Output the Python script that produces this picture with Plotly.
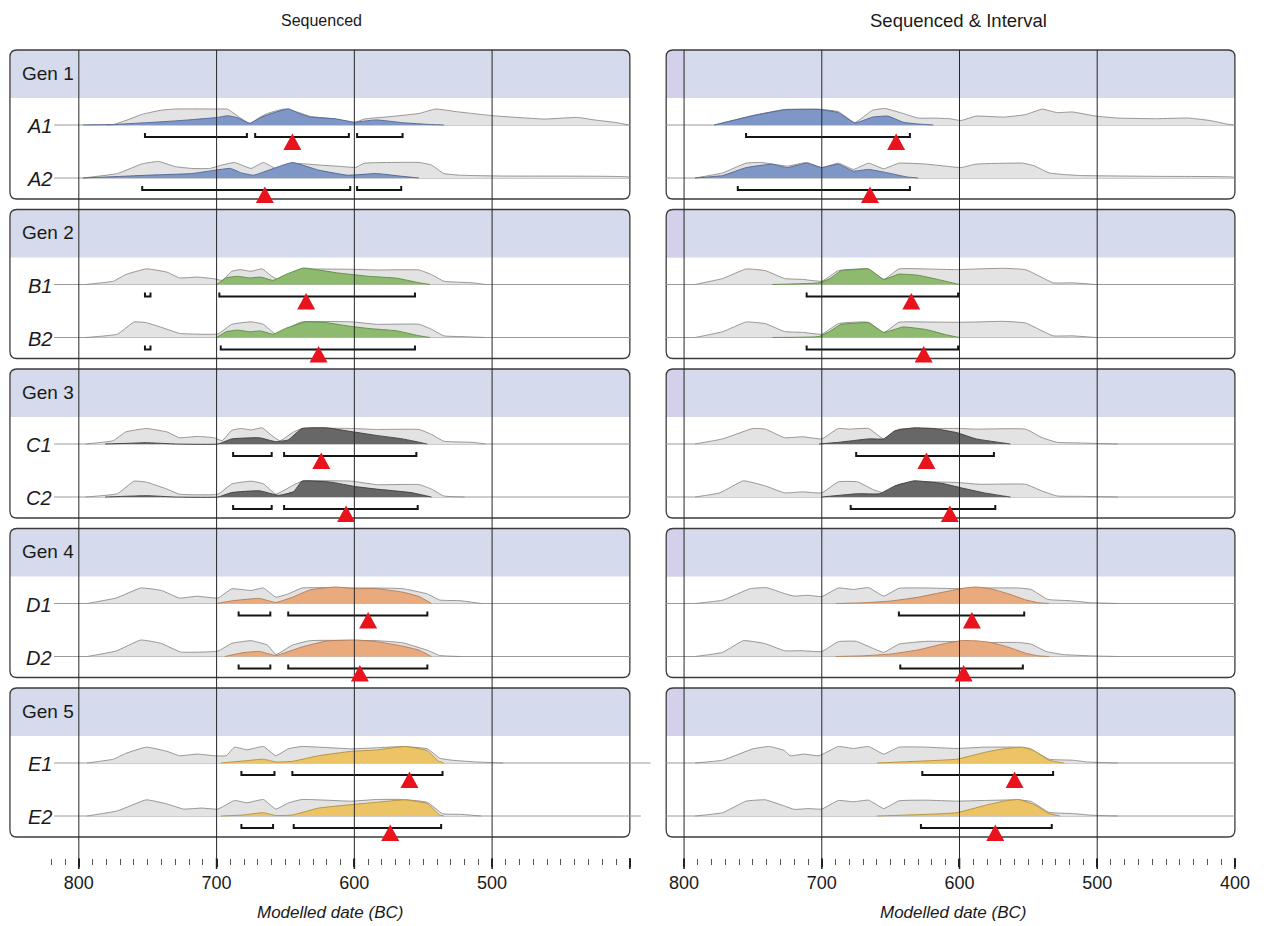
import plotly.graph_objects as go

FIG_W, FIG_H = 1266, 926
SX = 1.005  # horizontal layout stretch
FONT = "Liberation Sans, Arial, Helvetica, sans-serif"

ROWS = ["A1", "A2", "B1", "B2", "C1", "C2", "D1", "D2", "E1", "E2"]
GENERATIONS = ["Gen 1", "Gen 2", "Gen 3", "Gen 4", "Gen 5"]
PANEL_TITLES = ["Sequenced", "Sequenced & Interval"]
AXIS_TITLE = "Modelled date (BC)"
MAJOR_TICKS = [800, 700, 600, 500, 400]
LEFT_TICK_TEXT = ["800", "700", "600", "500", ""]
RIGHT_TICK_TEXT = ["800", "700", "600", "500", "400"]
GRID_YEARS = [800, 700, 600, 500]

POST_FILL = ["#7f97c6", "#8dba6f", "#676767", "#e9aa7e", "#ecc465"]
POST_LINE = ["#4f6390", "#5b8a40", "#3c3c3c", "#b37a52", "#b38e38"]
PRIOR_FILL = "#e3e3e3"
PRIOR_LINE = "#8c8c8c"

# ---- Sequenced model: (year BC, relative probability) ----
SEQ_A1_PRIOR = [(780, 0), (775, 0.02), (765, 0.3), (754, 0.65), (740, 0.9), (730, 0.97), (700, 0.97), (692, 0.96),
                (684, 0.5), (676, 0.1), (668, 0.5), (663, 0.7), (651, 0.97), (640, 0.75), (632, 0.52), (614, 0.36),
                (600, 0.14), (593, 0.36), (575, 0.5), (553, 0.7), (541, 0.97), (526, 0.81), (499, 0.56), (462, 0.36),
                (438, 0.46), (426, 0.31), (410, 0.15), (401, 0)]
SEQ_A1_POST = [(797, 0), (775, 0.03), (751, 0.14), (735, 0.22), (720, 0.31), (700, 0.45), (692, 0.56), (685, 0.45),
               (676, 0.1), (668, 0.45), (663, 0.62), (648, 0.98), (640, 0.7), (632, 0.48), (614, 0.38), (600, 0.17),
               (592, 0.25), (584, 0.31), (565, 0.14), (545, 0.03), (535, 0)]
SEQ_A2_PRIOR = [(797, 0), (772, 0.27), (754, 0.86), (742, 1.0), (730, 0.69), (718, 0.58), (705, 0.58), (696, 0.79),
                (687, 0.94), (675, 0.58), (666, 0.94), (657, 0.58), (645, 0.89), (626, 0.79), (608, 0.69), (599, 0.64),
                (593, 0.89), (553, 0.94), (544, 0.79), (535, 0.27), (523, 0.17), (493, 0.12), (401, 0.06)]
SEQ_A2_POST = [(797, 0), (750, 0.17), (718, 0.27), (690, 0.58), (682, 0.31), (673, 0.17), (662, 0.48), (645, 0.94),
               (626, 0.48), (605, 0.17), (584, 0.27), (565, 0.1), (553, 0)]
SEQ_B1_PRIOR = [(795, 0), (775, 0.2), (766, 0.6), (751, 0.95), (736, 0.75), (727, 0.4), (714, 0.45), (702, 0.35),
                (696, 0.25), (689, 0.8), (683, 0.9), (675, 0.8), (667, 0.95), (660, 0.5), (654, 0.25), (645, 0.7),
                (638, 0.92), (602, 0.92), (584, 0.88), (553, 0.88), (544, 0.6), (535, 0.2), (514, 0.1), (505, 0)]
SEQ_B1_POST = [(700, 0), (693, 0.4), (685, 0.5), (676, 0.4), (668, 0.45), (659, 0.25), (650, 0.6), (637, 1.0),
               (626, 0.88), (612, 0.7), (590, 0.5), (569, 0.38), (554, 0.12), (545, 0)]
SEQ_B2_PRIOR = [(795, 0), (772, 0.2), (760, 0.94), (751, 0.9), (736, 0.5), (727, 0.25), (699, 0.22), (689, 0.8),
                (675, 0.95), (666, 0.8), (657, 0.2), (645, 0.7), (638, 0.95), (602, 0.95), (584, 0.8), (553, 0.8),
                (544, 0.5), (535, 0.1), (520, 0.05), (505, 0)]
SEQ_B2_POST = [(700, 0), (693, 0.35), (685, 0.45), (676, 0.35), (668, 0.4), (659, 0.2), (650, 0.55), (635, 0.95),
               (620, 0.9), (605, 0.7), (590, 0.55), (569, 0.4), (554, 0.12), (545, 0)]
SEQ_C1_PRIOR = [(795, 0), (775, 0.2), (766, 0.73), (751, 0.94), (736, 0.73), (727, 0.38), (714, 0.46), (702, 0.38),
                (696, 0.2), (689, 0.83), (682, 0.94), (675, 0.85), (667, 0.98), (660, 0.52), (654, 0.2), (644, 0.73),
                (638, 0.94), (602, 0.94), (584, 0.88), (553, 0.88), (544, 0.58), (535, 0.17), (514, 0.1), (505, 0)]
SEQ_C1_POST = [(781, 0), (765, 0.04), (751, 0.08), (740, 0.04), (730, 0), (699, 0), (689, 0.31), (669, 0.38),
               (657, 0.14), (648, 0.25), (638, 0.94), (620, 0.98), (605, 0.79), (584, 0.52), (565, 0.31), (547, 0)]
SEQ_C2_PRIOR = [(795, 0), (772, 0.2), (760, 0.96), (751, 0.9), (736, 0.48), (727, 0.17), (699, 0.17), (689, 0.79),
                (675, 0.96), (666, 0.8), (657, 0.17), (645, 0.69), (638, 0.96), (602, 0.96), (584, 0.75), (553, 0.75),
                (544, 0.48), (535, 0.06), (520, 0)]
SEQ_C2_POST = [(781, 0), (751, 0.08), (730, 0), (699, 0), (689, 0.27), (669, 0.38), (655, 0.1), (644, 0.33),
               (638, 0.96), (617, 0.9), (599, 0.63), (584, 0.48), (559, 0.27), (544, 0)]
SEQ_D1_PRIOR = [(794, 0), (773, 0.33), (755, 0.94), (740, 0.79), (727, 0.33), (714, 0.44), (699, 0.33), (689, 0.89),
                (675, 0.79), (666, 0.94), (657, 0.38), (648, 0.58), (638, 0.94), (602, 0.94), (584, 0.94), (565, 0.9),
                (547, 0.58), (538, 0.21), (523, 0.17), (508, 0)]
SEQ_D1_POST = [(700, 0), (688, 0.17), (669, 0.31), (657, 0.06), (645, 0.38), (632, 0.83), (614, 1.0), (599, 0.9),
               (584, 0.9), (565, 0.69), (553, 0.42), (544, 0)]
SEQ_D2_PRIOR = [(794, 0), (773, 0.33), (755, 1.0), (740, 0.79), (726, 0.27), (699, 0.33), (689, 0.8), (675, 0.96),
                (663, 0.69), (657, 0.12), (645, 0.69), (632, 0.96), (584, 0.96), (565, 0.83), (547, 0.38), (538, 0.06),
                (523, 0)]
SEQ_D2_POST = [(694, 0), (681, 0.23), (669, 0.31), (657, 0.06), (638, 0.58), (620, 0.94), (599, 1.0), (584, 0.9),
               (565, 0.63), (553, 0.38), (544, 0)]
SEQ_E1_PRIOR = [(794, 0), (775, 0.23), (766, 0.58), (751, 0.96), (736, 0.71), (727, 0.44), (714, 0.54), (702, 0.44),
                (693, 0.44), (687, 0.96), (678, 0.8), (666, 1.0), (657, 0.44), (648, 0.86), (638, 1.0), (602, 0.86),
                (584, 0.92), (565, 1.0), (547, 0.86), (538, 0.29), (529, 0.17), (511, 0.06), (492, 0)]
SEQ_E1_POST = [(697, 0), (681, 0.12), (666, 0.23), (657, 0.06), (645, 0.1), (626, 0.44), (602, 0.71), (584, 0.79),
               (563, 1.0), (547, 0.75), (539, 0.12), (535, 0)]
SEQ_E2_PRIOR = [(794, 0), (772, 0.31), (751, 0.98), (736, 0.73), (724, 0.42), (711, 0.48), (699, 0.42), (687, 0.94),
                (678, 0.8), (666, 1.0), (657, 0.42), (648, 0.79), (638, 1.0), (602, 0.9), (584, 1.0), (565, 1.0),
                (547, 0.83), (536, 0.14), (523, 0.1), (508, 0)]
SEQ_E2_POST = [(697, 0), (681, 0.06), (666, 0.2), (657, 0.03), (645, 0.06), (626, 0.48), (602, 0.69), (584, 0.83),
               (563, 0.98), (547, 0.75), (538, 0.06), (535, 0)]

SEQ_RANGES = [
    [(752, 678), (672, 604), (598, 565)],
    [(754, 603), (598, 566)],
    [(752, 748), (698, 556)],
    [(752, 748), (697, 556)],
    [(688, 660), (651, 555)],
    [(688, 660), (651, 554)],
    [(684, 661), (648, 547)],
    [(684, 661), (648, 547)],
    [(682, 658), (645, 536)],
    [(682, 659), (644, 537)],
]
SEQ_MEDIAN = [645, 665, 635, 626, 624, 606, 590, 596, 560, 574]
# where each row's baseline rule stops (years BC)
SEQ_LINE_END = [400, 400, 400, 400, 400, 400, 400, 400, 385, 392]

# ---- Sequenced & Interval model ----
INT_A1_PRIOR = [(778, 0), (750, 0.58), (727, 0.94), (702, 0.96), (688, 0.81), (676, 0.15), (663, 0.9), (654, 1.0),
                (643, 0.75), (630, 0.42), (619, 0.42), (607, 0.38), (599, 0.27), (588, 0.54), (568, 0.48), (552, 0.63),
                (540, 0.96), (529, 0.75), (518, 0.79), (501, 0.54), (485, 0.42), (457, 0.38), (434, 0.42), (418, 0.27),
                (406, 0.06), (401, 0)]
INT_A1_POST = [(778, 0), (750, 0.56), (727, 0.92), (702, 0.94), (688, 0.75), (676, 0.12), (663, 0.48), (652, 0.54),
               (641, 0.17), (630, 0.06), (619, 0)]
INT_A2_PRIOR = [(792, 0), (772, 0.31), (755, 0.9), (744, 0.94), (725, 0.72), (711, 0.94), (700, 0.63), (688, 0.9),
                (677, 0.52), (666, 0.9), (655, 0.56), (644, 0.9), (624, 0.84), (607, 0.69), (599, 0.63), (588, 0.84),
                (554, 0.9), (546, 0.75), (535, 0.31), (524, 0.21), (512, 0.15), (457, 0.1), (401, 0.05)]
INT_A2_POST = [(792, 0), (772, 0.15), (755, 0.63), (736, 0.84), (725, 0.63), (711, 0.9), (700, 0.63), (688, 0.84),
               (677, 0.42), (666, 0.52), (652, 0.31), (638, 0.06), (630, 0)]
INT_B1_PRIOR = [(792, 0), (772, 0.36), (755, 0.94), (741, 0.84), (727, 0.36), (714, 0.31), (700, 0.2), (688, 0.84),
                (674, 0.94), (666, 0.94), (655, 0.31), (644, 0.94), (624, 0.94), (602, 0.9), (588, 0.94), (568, 0.98),
                (552, 0.9), (540, 0.42), (532, 0.1), (518, 0.1), (501, 0)]
INT_B1_POST = [(736, 0), (702, 0.1), (694, 0.36), (686, 0.84), (677, 0.9), (666, 0.94), (655, 0.31), (644, 0.63),
               (630, 0.56), (616, 0.31), (600, 0)]
INT_B2_PRIOR = [(792, 0), (772, 0.35), (755, 0.94), (741, 0.84), (727, 0.36), (714, 0.31), (700, 0.2), (688, 0.84),
                (674, 0.94), (666, 0.92), (655, 0.3), (644, 0.92), (624, 0.94), (602, 0.92), (588, 0.94), (568, 0.98),
                (552, 0.88), (540, 0.4), (532, 0.1), (518, 0.1), (501, 0)]
INT_B2_POST = [(736, 0), (702, 0.06), (694, 0.38), (686, 0.8), (677, 0.86), (666, 0.9), (655, 0.31), (641, 0.64),
               (624, 0.48), (610, 0.17), (600, 0)]
INT_C1_PRIOR = [(792, 0), (772, 0.31), (750, 0.94), (741, 0.9), (727, 0.38), (714, 0.44), (700, 0.31), (688, 0.94),
                (680, 0.9), (666, 0.94), (655, 0.31), (644, 0.9), (624, 0.94), (600, 0.94), (588, 0.9), (552, 0.9),
                (540, 0.38), (529, 0.1), (512, 0.06), (485, 0)]
INT_C1_POST = [(702, 0), (688, 0.1), (666, 0.31), (655, 0.31), (647, 0.8), (633, 0.98), (619, 0.94), (602, 0.69),
               (588, 0.31), (568, 0.06), (563, 0)]
INT_C2_PRIOR = [(792, 0), (774, 0.25), (757, 0.98), (741, 0.67), (727, 0.25), (714, 0.31), (700, 0.25), (688, 0.92),
                (674, 0.92), (663, 0.46), (655, 0.25), (644, 0.77), (624, 0.92), (602, 0.88), (585, 0.77), (552, 0.77),
                (540, 0.36), (529, 0.06), (512, 0.04), (485, 0)]
INT_C2_POST = [(700, 0), (674, 0.2), (658, 0.2), (647, 0.67), (633, 0.98), (613, 0.83), (599, 0.56), (582, 0.25),
               (568, 0.06), (563, 0)]
INT_D1_PRIOR = [(792, 0), (772, 0.2), (752, 0.9), (740, 0.96), (727, 0.6), (720, 0.45), (710, 0.5), (700, 0.42),
                (688, 0.94), (677, 0.85), (666, 0.96), (655, 0.45), (644, 0.92), (624, 0.94), (602, 0.9), (585, 0.94),
                (557, 0.94), (548, 0.85), (536, 0.25), (520, 0.17), (505, 0.05), (485, 0)]
INT_D1_POST = [(690, 0), (670, 0.04), (650, 0.15), (630, 0.38), (610, 0.72), (595, 0.95), (588, 1.0), (578, 0.9),
               (565, 0.6), (552, 0.22), (543, 0.05), (535, 0)]
INT_D2_PRIOR = [(792, 0), (772, 0.25), (757, 0.96), (742, 0.8), (727, 0.35), (714, 0.35), (700, 0.3), (688, 0.9),
                (675, 0.92), (663, 0.5), (655, 0.25), (644, 0.75), (624, 0.92), (602, 0.9), (585, 0.85), (557, 0.85),
                (548, 0.75), (537, 0.3), (525, 0.12), (505, 0.04), (485, 0)]
INT_D2_POST = [(690, 0), (670, 0.04), (650, 0.15), (630, 0.4), (612, 0.76), (598, 0.97), (588, 0.95), (578, 0.86),
               (565, 0.58), (552, 0.2), (543, 0.04), (535, 0)]
INT_E1_PRIOR = [(792, 0), (772, 0.17), (750, 0.86), (738, 1.0), (727, 0.75), (723, 0.44), (713, 0.54), (702, 0.44),
                (688, 1.0), (677, 0.88), (666, 1.0), (655, 0.54), (644, 0.96), (624, 0.96), (602, 0.88), (582, 0.96),
                (557, 0.96), (549, 0.88), (535, 0.23), (518, 0.17), (507, 0.06), (485, 0)]
INT_E1_POST = [(660, 0), (624, 0.13), (602, 0.23), (582, 0.64), (568, 0.86), (554, 0.96), (546, 0.75), (535, 0.17),
               (524, 0)]
INT_E2_PRIOR = [(792, 0), (772, 0.2), (755, 0.9), (741, 0.98), (727, 0.6), (720, 0.4), (710, 0.45), (700, 0.42),
                (688, 0.94), (677, 0.86), (666, 0.96), (655, 0.45), (644, 0.92), (624, 0.96), (602, 0.9), (582, 0.94),
                (557, 0.98), (548, 0.88), (535, 0.22), (518, 0.15), (505, 0.05), (485, 0)]
INT_E2_POST = [(660, 0), (624, 0.1), (602, 0.2), (582, 0.63), (568, 0.9), (557, 1.0), (546, 0.7), (535, 0.15),
               (527, 0)]

INT_RANGES = [
    [(755, 636)], [(761, 636)], [(711, 601)], [(711, 601)], [(675, 575)],
    [(679, 574)], [(644, 553)], [(643, 554)], [(627, 532)], [(628, 533)],
]
INT_MEDIAN = [646, 665, 635, 626, 624, 607, 591, 597, 560, 574]
INT_LINE_END = [400] * 10

SEQ_PRIOR = [SEQ_A1_PRIOR, SEQ_A2_PRIOR, SEQ_B1_PRIOR, SEQ_B2_PRIOR, SEQ_C1_PRIOR,
             SEQ_C2_PRIOR, SEQ_D1_PRIOR, SEQ_D2_PRIOR, SEQ_E1_PRIOR, SEQ_E2_PRIOR]
SEQ_POST = [SEQ_A1_POST, SEQ_A2_POST, SEQ_B1_POST, SEQ_B2_POST, SEQ_C1_POST,
            SEQ_C2_POST, SEQ_D1_POST, SEQ_D2_POST, SEQ_E1_POST, SEQ_E2_POST]
INT_PRIOR = [INT_A1_PRIOR, INT_A2_PRIOR, INT_B1_PRIOR, INT_B2_PRIOR, INT_C1_PRIOR,
             INT_C2_PRIOR, INT_D1_PRIOR, INT_D2_PRIOR, INT_E1_PRIOR, INT_E2_PRIOR]
INT_POST = [INT_A1_POST, INT_A2_POST, INT_B1_POST, INT_B2_POST, INT_C1_POST,
            INT_C2_POST, INT_D1_POST, INT_D2_POST, INT_E1_POST, INT_E2_POST]

# ---- layout geometry (pixels; the y axes run in pixel units, top-down) ----
AXIS_Y = 858
TICK_END = 869
BOX_TOP0 = 50
BOX_STEP = 159.5
BOX_H = 149
HEADER_H = 48
ROW_OFFSETS = (75, 128)
DENS_H = 16.5
BRACKET_DY = 12
BRACKET_TICK = 4
TRI_DY = 17
PX_PER_YEAR = 630 / 454.9


def px(x):
    """Horizontal pixel position -> paper fraction."""
    return x * SX / FIG_W


PANELS = [
    dict(xa="x", ya="y", xref="x", yref="y", domain_px=(6, 6 + (852.9 - 383.0) * PX_PER_YEAR),
         range=(852.9, 383.0), box=(850, 400), line_from=818, line_end=SEQ_LINE_END,
         prior=SEQ_PRIOR, post=SEQ_POST, ranges=SEQ_RANGES, median=SEQ_MEDIAN,
         ticktext=LEFT_TICK_TEXT, minor_top=820, title=PANEL_TITLES[0], title_x=323, title_size=16,
         axis_title_x=332),
    dict(xa="x2", ya="y2", xref="x2", yref="y2", domain_px=(666, 1244), range=(815.7, 398.2), box=(813, 400),
         line_from=813, line_end=INT_LINE_END, prior=INT_PRIOR, post=INT_POST, ranges=INT_RANGES,
         median=INT_MEDIAN, ticktext=RIGHT_TICK_TEXT, minor_top=790, title=PANEL_TITLES[1], title_x=964,
         title_size=18.5, axis_title_x=958),
]

RX, RY = 5.0, 7.0  # corner rounding (years, px)


def box_top(g):
    return BOX_TOP0 + g * BOX_STEP


def rounded_box(xl, xr, yt, yb):
    s = -1  # years decrease to the right
    return (f"M{xl + s * RX},{yt} L{xr - s * RX},{yt} Q{xr},{yt} {xr},{yt + RY} "
            f"L{xr},{yb - RY} Q{xr},{yb} {xr - s * RX},{yb} L{xl + s * RX},{yb} "
            f"Q{xl},{yb} {xl},{yb - RY} L{xl},{yt + RY} Q{xl},{yt} {xl + s * RX},{yt} Z")


def header_box(xl, xr, yt, yh):
    s = -1
    return (f"M{xl + s * RX},{yt} L{xr - s * RX},{yt} Q{xr},{yt} {xr},{yt + RY} "
            f"L{xr},{yh} L{xl},{yh} L{xl},{yt + RY} Q{xl},{yt} {xl + s * RX},{yt} Z")


fig = go.Figure()
shapes_below, grid_shapes, tri_shapes = [], [], []
annotations = []
tick_end_paper = 1 - TICK_END / FIG_H
axis_paper = 1 - AXIS_Y / FIG_H

for p in PANELS:
    xl, xr = p["box"]
    for g in range(len(GENERATIONS)):
        yt = box_top(g)
        shapes_below.append(dict(type="path", xref=p["xref"], yref=p["yref"], layer="below",
                                 path=header_box(xl, xr, yt, yt + HEADER_H),
                                 fillcolor="#d5dbed", line=dict(width=0)))
        if p["xa"] == "x2":
            shapes_below.append(dict(type="path", xref=p["xref"], yref=p["yref"], layer="below",
                                     path=f"M{xl - 3},{yt + 0.5} L{GRID_YEARS[0]},{yt + 0.5} L{GRID_YEARS[0]},{yt + HEADER_H} "
                                          f"L{xl},{yt + HEADER_H} L{xl},{yt + RY} Z",
                                     fillcolor="#d3d0ec", line=dict(width=0)))
        shapes_below.append(dict(type="path", xref=p["xref"], yref=p["yref"], layer="below",
                                 path=rounded_box(xl, xr, yt, yt + BOX_H),
                                 fillcolor="rgba(0,0,0,0)", line=dict(color="#3c3c3c", width=1.3)))

    for i, row in enumerate(ROWS):
        g = i // 2
        base = box_top(g) + ROW_OFFSETS[i % 2]
        fig.add_trace(go.Scatter(x=[p["line_from"], p["line_end"][i]], y=[base, base], xaxis=p["xa"],
                                 yaxis=p["ya"], mode="lines", line=dict(color="#9a9a9a", width=1),
                                 hoverinfo="skip"))
        for pts, fc, lc in ((p["prior"][i], PRIOR_FILL, PRIOR_LINE),
                            (p["post"][i], POST_FILL[g], POST_LINE[g])):
            xs = [pts[0][0]] + [q[0] for q in pts] + [pts[-1][0]]
            ys = [base] + [base - DENS_H * q[1] for q in pts] + [base]
            fig.add_trace(go.Scatter(x=xs, y=ys, xaxis=p["xa"], yaxis=p["ya"], mode="lines",
                                     fill="toself", fillcolor=fc,
                                     line=dict(color=lc, width=0.9, shape="spline", smoothing=0.35),
                                     hoverinfo="skip"))
        bx, by = [], []
        for lo, hi in p["ranges"][i]:
            bx += [lo, lo, hi, hi, None]
            by += [base + BRACKET_DY - BRACKET_TICK, base + BRACKET_DY, base + BRACKET_DY,
                   base + BRACKET_DY - BRACKET_TICK, None]
        fig.add_trace(go.Scatter(x=bx, y=by, xaxis=p["xa"], yaxis=p["ya"], mode="lines",
                                 line=dict(color="#151515", width=2), hoverinfo="skip"))
        tri_shapes.append(dict(type="path", xref=p["xref"], yref=p["yref"], layer="above",
                               xsizemode="pixel", ysizemode="pixel",
                               xanchor=p["median"][i], yanchor=base + TRI_DY,
                               path="M-9,-8 L9,-8 L0,8.5 Z", fillcolor="#e8131d", line=dict(width=0)))
        if p["xa"] == "x":
            annotations.append(dict(xref="paper", yref="y", x=px(54), y=base + 1, xanchor="right",
                                    yanchor="middle", showarrow=False, text=f"<i>{row}</i>",
                                    font=dict(family=FONT, size=20, color="#1a1a1a")))

    for yr in GRID_YEARS:
        grid_shapes.append(dict(type="line", xref=p["xref"], yref=p["yref"], layer="above",
                                x0=yr, x1=yr, y0=BOX_TOP0, y1=AXIS_Y, line=dict(color="#262626", width=1)))
    for yr in MAJOR_TICKS:
        grid_shapes.append(dict(type="line", xref=p["xref"], yref="paper", layer="above",
                                x0=yr, x1=yr, y0=axis_paper, y1=tick_end_paper,
                                line=dict(color="#222222", width=1.6)))

    annotations.append(dict(xref="paper", yref="paper", x=px(p["title_x"]), y=1 - 21 / FIG_H,
                            xanchor="center", yanchor="middle", showarrow=False, text=p["title"],
                            font=dict(family=FONT, size=p["title_size"], color="#1a1a1a")))
    annotations.append(dict(xref="paper", yref="paper", x=px(p["axis_title_x"]), y=1 - 912 / FIG_H,
                            xanchor="center", yanchor="middle", showarrow=False, text=f"<i>{AXIS_TITLE}</i>",
                            font=dict(family=FONT, size=17, color="#1a1a1a")))

for g, name in enumerate(GENERATIONS):
    annotations.append(dict(xref="paper", yref="y", x=px(20), y=box_top(g) + 23, xanchor="left",
                            yanchor="middle", showarrow=False, text=name,
                            font=dict(family=FONT, size=19, color="#1a1a1a")))


def xaxis_cfg(p, anchor):
    minor_vals = [v for v in range(410, p["minor_top"] + 1, 10) if v % 100]
    return dict(domain=[px(p["domain_px"][0]), px(p["domain_px"][1])], range=list(p["range"]),
                anchor=anchor, tickmode="array", tickvals=MAJOR_TICKS, ticktext=p["ticktext"],
                ticks="outside", ticklen=8, tickwidth=1.6, tickcolor="#222",
                tickfont=dict(family=FONT, size=18, color="#1a1a1a"), ticklabeloverflow="allow",
                showgrid=False, zeroline=False, showline=False, fixedrange=True,
                minor=dict(tickmode="array", tickvals=minor_vals, ticks="outside", ticklen=6,
                           tickwidth=1, tickcolor="#555", showgrid=False))


yax = dict(domain=[1 - AXIS_Y / FIG_H, 1], range=[AXIS_Y, 0], visible=False, fixedrange=True)

fig.update_layout(
    width=FIG_W, height=FIG_H, margin=dict(l=0, r=0, t=0, b=0),
    paper_bgcolor="white", plot_bgcolor="white", showlegend=False,
    xaxis=xaxis_cfg(PANELS[0], "y"), yaxis=dict(yax, anchor="x"),
    xaxis2=xaxis_cfg(PANELS[1], "y2"), yaxis2=dict(yax, anchor="x2"),
    shapes=shapes_below + grid_shapes + tri_shapes,
    annotations=annotations,
)

fig.write_html("out.html")
